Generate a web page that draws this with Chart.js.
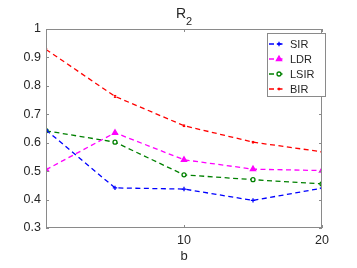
<!DOCTYPE html>
<html>
<head>
<meta charset="utf-8">
<script src="https://cdn.jsdelivr.net/npm/chart.js@4.4.0/dist/chart.umd.min.js"></script>
<style>
html, body { margin: 0; padding: 0; background: #fff; }
#wrap { width: 357px; height: 268px; }
</style>
</head>
<body>
<div id="wrap"><canvas id="r2Chart"></canvas></div>
<script>
// R_2 vs b
const bValues = [0, 5, 10, 15, 20];
const sirValues = [0.645, 0.441, 0.437, 0.397, 0.440];
const ldrValues = [0.505, 0.635, 0.540, 0.507, 0.502];
const lsirValues = [0.642, 0.602, 0.487, 0.470, 0.455];
const birValues = [0.928, 0.763, 0.660, 0.602, 0.568];
const xTickValues = [10, 20];
const yTickValues = [0.3, 0.4, 0.5, 0.6, 0.7, 0.8, 0.9, 1];

const FONT = 'Liberation Sans, Arial, Helvetica, sans-serif';
const TEXT = '#262626';
const AXIS = '#8a8a8a';

function toPoints(vals) {
    return bValues.map((b, i) => ({ x: b, y: vals[i] }));
}

// box, inner ticks, title, legend
const matlabAxes = {
    id: 'matlabAxes',
    afterDatasetsDraw(chart) {
        const ctx = chart.ctx;
        const a = chart.chartArea;
        const xs = chart.scales.x, ys = chart.scales.y;
        ctx.save();
        ctx.strokeStyle = AXIS;
        ctx.lineWidth = 1;
        ctx.strokeRect(a.left + 0.5, a.top + 0.5, a.right - a.left - 1, a.bottom - a.top - 1);
        ctx.beginPath();
        xTickValues.forEach(v => {
            const px = Math.round(xs.getPixelForValue(v)) + 0.5;
            ctx.moveTo(px, a.bottom); ctx.lineTo(px, a.bottom - 3);
            ctx.moveTo(px, a.top); ctx.lineTo(px, a.top + 3);
        });
        yTickValues.forEach(v => {
            const py = Math.round(ys.getPixelForValue(v)) + 0.5;
            ctx.moveTo(a.left, py); ctx.lineTo(a.left + 3, py);
            ctx.moveTo(a.right, py); ctx.lineTo(a.right - 3, py);
        });
        ctx.stroke();

        // title R_2
        ctx.fillStyle = TEXT;
        ctx.textBaseline = 'alphabetic';
        ctx.textAlign = 'left';
        ctx.font = '14px ' + FONT;
        const rw = ctx.measureText('R').width;
        ctx.font = '11px ' + FONT;
        const sw = ctx.measureText('2').width;
        const cx = (a.left + a.right) / 2;
        const x0 = cx - (rw + sw) / 2;
        ctx.font = '14px ' + FONT;
        ctx.fillText('R', x0, 18);
        ctx.font = '11px ' + FONT;
        ctx.fillText('2', x0 + rw, 25);

        // legend
        const bx = 267, by = 33, bw = 59, bh = 64;
        ctx.fillStyle = '#fff';
        ctx.fillRect(bx, by, bw, bh);
        ctx.strokeStyle = '#8a8a8a';
        ctx.lineWidth = 1;
        ctx.strokeRect(bx + 0.5, by + 0.5, bw - 1, bh - 1);
        chart.data.datasets.forEach((ds, i) => {
            const y = by + 11 + i * 15;
            ctx.strokeStyle = ds.borderColor;
            ctx.lineWidth = ds.borderWidth;
            ctx.setLineDash(ds.borderDash);
            ctx.beginPath();
            ctx.moveTo(bx + 2, y); ctx.lineTo(bx + 17, y);
            ctx.stroke();
            ctx.setLineDash([]);
            ctx.strokeStyle = ds.borderColor;
            ctx.fillStyle = ds.pointBackgroundColor;
            Chart.helpers.drawPoint(ctx, {
                pointStyle: ds.pointStyle,
                radius: ds.pointRadius,
                borderWidth: ds.pointBorderWidth
            }, bx + 12, y);
            ctx.fillStyle = TEXT;
            ctx.font = '11px ' + FONT;
            ctx.textBaseline = 'middle';
            ctx.fillText(ds.label, bx + 23, y + 0.5);
        });
        ctx.restore();
    }
};

function series(label, vals, color, style, radius, bg) {
    return {
        label: label,
        data: toPoints(vals),
        borderColor: color,
        backgroundColor: color,
        borderWidth: 1.3,
        borderDash: [5, 3.5],
        pointStyle: style,
        pointRadius: radius,
        pointBorderWidth: 1.3,
        pointBorderColor: color,
        pointBackgroundColor: bg,
        tension: 0,
        fill: false
    };
}

const r2Chart = new Chart(document.getElementById('r2Chart').getContext('2d'), {
    type: 'line',
    data: {
        datasets: [
            series('SIR', sirValues, '#0000ff', 'cross', 2.2, '#0000ff'),
            series('LDR', ldrValues, '#ff00ff', 'triangle', 3, '#ff00ff'),
            series('LSIR', lsirValues, '#008000', 'circle', 2, '#ffffff'),
            series('BIR', birValues, '#ff0000', 'crossRot', 1.5, '#ff0000')
        ]
    },
    options: {
        responsive: true,
        maintainAspectRatio: false,
        animation: false,
        layout: {
            padding: { top: 29, right: 35, bottom: 0, left: 0 }
        },
        plugins: {
            legend: { display: false },
            title: { display: false },
            tooltip: { enabled: false }
        },
        scales: {
            x: {
                type: 'linear',
                min: 0,
                max: 20,
                afterBuildTicks: (scale) => {
                    scale.ticks = xTickValues.map(v => ({ value: v }));
                },
                afterFit: (scale) => { scale.height = 40; },
                grid: { display: false, drawTicks: false },
                border: { display: false },
                ticks: {
                    color: TEXT,
                    font: { family: FONT, size: 12.5 },
                    padding: 5,
                    maxRotation: 0
                },
                title: {
                    display: true,
                    text: 'b',
                    color: TEXT,
                    font: { family: FONT, size: 13 },
                    padding: { top: 0, bottom: 4 }
                }
            },
            y: {
                min: 0.3,
                max: 1,
                afterBuildTicks: (scale) => {
                    scale.ticks = yTickValues.map(v => ({ value: v }));
                },
                afterFit: (scale) => { scale.width = 46; },
                grid: { display: false, drawTicks: false },
                border: { display: false },
                ticks: {
                    color: TEXT,
                    font: { family: FONT, size: 12.5 },
                    padding: 5,
                    callback: (v) => (Math.round(v * 10) / 10).toString()
                }
            }
        }
    },
    plugins: [matlabAxes]
});
</script>
</body>
</html>
